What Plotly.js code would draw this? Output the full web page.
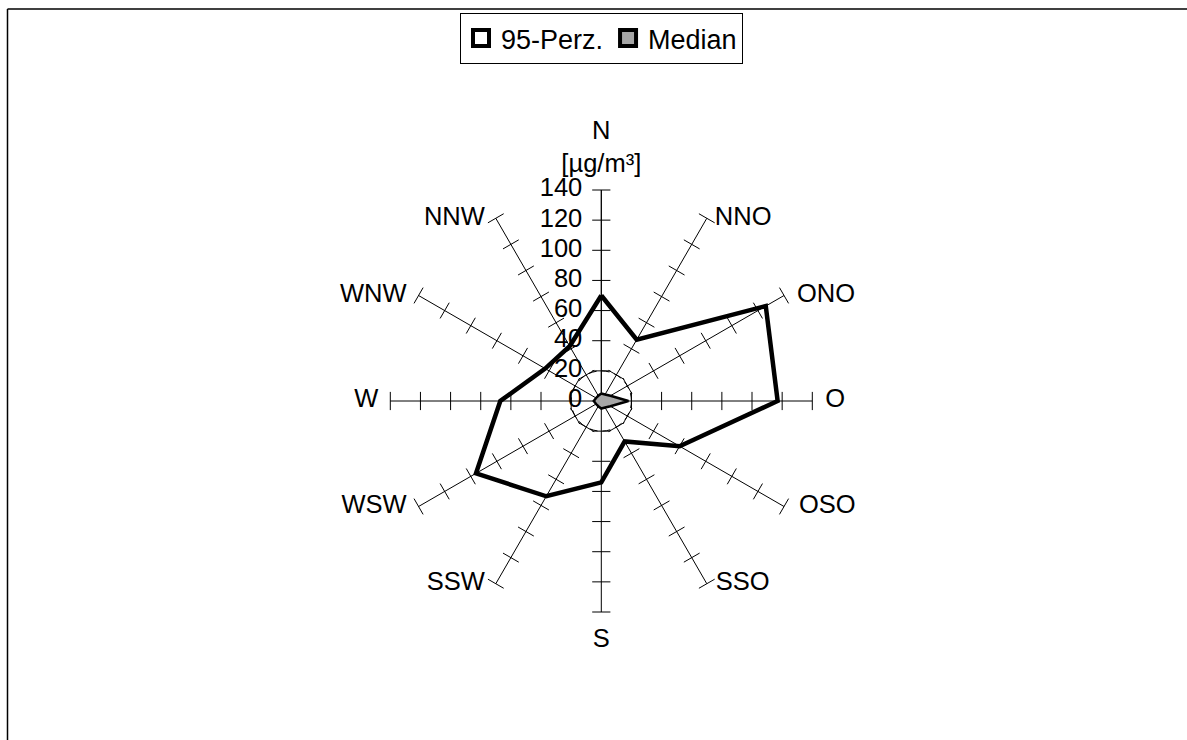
<!DOCTYPE html>
<html><head><meta charset="utf-8">
<script src="https://cdn.plot.ly/plotly-3.0.1.min.js"></script>
<style>html,body{margin:0;padding:0;background:#fff;} #chart{width:1187px;height:740px;}</style>
</head><body><div id="chart"></div>
<script>
// ---- data ----
const directions = ['N','NNO','ONO','O','OSO','SSO','S','SSW','WSW','W','WNW','NNW'];
const perz95 = [70, 47, 126, 117, 60, 31, 54, 73, 96, 67, 43, 42];
const median = [5, 5, 7, 18, 7, 5, 5, 4, 4, 5, 4, 4];
const radialTicks = [0, 20, 40, 60, 80, 100, 120, 140];
const radialTickLabels = ['0', '20', '40', '60', '80', '100', '120', '140'];
const unitLabel = '[µg/m³]';
const seriesNames = ['95-Perz.', 'Median'];

// ---- label placement (style, not data) ----
const dirLabelPos = ['top center', 'middle right', 'middle right', 'middle right', 'middle right', 'middle right',
  'bottom center', 'middle left', 'middle left', 'middle left', 'middle left', 'middle left'];
const dirLabelGap = [11.5, 8, 13, 13, 15, 9, 16, 11, 12, 12, 12, 11];
const radialLabelGap = 19;
const gapToSize = g => 2 * (g - 1) * 0.8;

// ---- helpers ----
const close = a => a.concat([a[0]]);
const step = 360 / directions.length;
const rMax = radialTicks[radialTicks.length - 1];
const tickTheta = [], tickR = [], tickAngle = [];
directions.forEach((d, i) => {
  radialTicks.filter(v => v > 0).forEach(v => {
    tickTheta.push(d); tickR.push(v); tickAngle.push(i * step);
  });
});
const dirText = directions.map(d => d === 'N' ? d + '<br>' + unitLabel : d);

const W = 1187, H = 740;
const cx = 601.3, cy = 401, rad = 211;
const domX = [(cx - rad) / W, (cx + rad) / W];
const domY = [(H - cy - rad) / H, (H - cy + rad) / H];
const FONT = 'Liberation Sans, Arial, sans-serif';
const FS = 25.5;

const traces = [
  { type: 'scatterpolar', subplot: 'polar', r: tickR, theta: tickTheta, mode: 'markers',
    marker: { symbol: 'line-ew', size: 13, color: 'black', angle: tickAngle, line: { color: 'black', width: 1 } },
    showlegend: false, hoverinfo: 'skip' },
  { type: 'scatterpolar', subplot: 'polar', r: close(perz95), theta: close(directions), mode: 'lines',
    line: { color: 'black', width: 4.5 }, showlegend: false, name: seriesNames[0] },
  { type: 'scatterpolar', subplot: 'polar2', r: close(median), theta: close(directions), mode: 'lines',
    fill: 'toself', fillcolor: '#a6a6a6', line: { color: 'black', width: 2.5 }, showlegend: false, name: seriesNames[1] },
  // direction labels at the end of each spoke
  { type: 'scatterpolar', subplot: 'polar', r: directions.map(() => rMax), theta: directions, mode: 'markers+text',
    text: dirText, textposition: dirLabelPos, textfont: { family: FONT, size: FS, color: 'black' },
    marker: { size: dirLabelGap.map(gapToSize), opacity: 0, color: 'white' },
    cliponaxis: false, showlegend: false, hoverinfo: 'skip' },
  // radial value labels along the N spoke
  { type: 'scatterpolar', subplot: 'polar', r: radialTicks, theta: radialTicks.map(() => directions[0]), mode: 'markers+text',
    text: radialTickLabels, textposition: 'middle left', textfont: { family: FONT, size: FS, color: 'black' },
    marker: { size: gapToSize(radialLabelGap), opacity: 0, color: 'white' },
    cliponaxis: false, showlegend: false, hoverinfo: 'skip' },
  // legend entries
  { type: 'scatterpolar', subplot: 'polar', r: [null], theta: [directions[0]], mode: 'markers', name: seriesNames[0],
    marker: { symbol: 'square', size: 16, color: 'white', line: { color: 'black', width: 4 } } },
  { type: 'scatterpolar', subplot: 'polar', r: [null], theta: [directions[0]], mode: 'markers', name: seriesNames[1],
    marker: { symbol: 'square', size: 16, color: '#a6a6a6', line: { color: 'black', width: 4 } } }
];

const layout = {
  width: W, height: H,
  margin: { l: 0, r: 0, t: 0, b: 0, autoexpand: false },
  paper_bgcolor: 'white',
  font: { family: FONT, size: FS, color: 'black' },
  hovermode: false,
  showlegend: true,
  legend: { orientation: 'h', x: 601.5 / W, xanchor: 'center', y: 1 - 13 / H, yanchor: 'top',
    bordercolor: 'black', borderwidth: 1, bgcolor: 'white', font: { size: 27 },
    itemwidth: 30, itemclick: false, itemdoubleclick: false, traceorder: 'normal' },
  polar: {
    domain: { x: domX, y: domY }, bgcolor: 'rgba(0,0,0,0)',
    angularaxis: { type: 'category', categoryarray: directions, direction: 'clockwise', rotation: 90,
      showgrid: true, gridcolor: 'black', gridwidth: 1, showline: false, ticks: '', showticklabels: false },
    radialaxis: { range: [0, rMax], tickvals: radialTicks, angle: 90, side: 'counterclockwise',
      showgrid: false, showline: true, linecolor: 'black', linewidth: 1, ticks: '', showticklabels: false }
  },
  polar2: {
    domain: { x: domX, y: domY }, bgcolor: 'rgba(0,0,0,0)',
    angularaxis: { type: 'category', categoryarray: directions, direction: 'clockwise', rotation: 90,
      showgrid: false, showline: false, showticklabels: false, ticks: '' },
    radialaxis: { range: [0, rMax], tickvals: [radialTicks[1]], showgrid: true, gridcolor: 'black', gridwidth: 1,
      griddash: '8px,5px', showline: false, showticklabels: false, ticks: '' }
  },
  shapes: [
    { type: 'line', xref: 'paper', yref: 'paper', x0: 7.5 / W, x1: 1, y0: 1 - 9 / H, y1: 1 - 9 / H, line: { color: 'black', width: 1.5 } },
    { type: 'line', xref: 'paper', yref: 'paper', x0: 7.5 / W, x1: 7.5 / W, y0: 1 - 9 / H, y1: 0, line: { color: 'black', width: 1.5 } }
  ]
};

Plotly.newPlot('chart', traces, layout, { displayModeBar: false, staticPlot: true });
</script>
</body></html>
